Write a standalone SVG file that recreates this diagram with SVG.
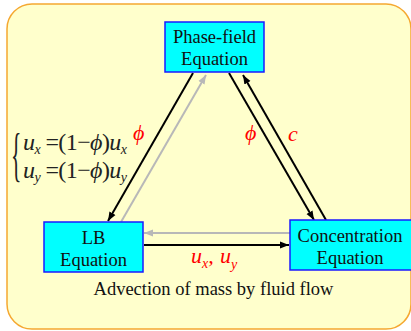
<svg xmlns="http://www.w3.org/2000/svg" width="411" height="331" viewBox="0 0 411 331">
<style>
.box{fill:#00FFFF;stroke:#1A1AFF;stroke-width:1.5}
.lbl{font-family:"Liberation Serif","Times New Roman",serif;font-size:18.5px;fill:#111;text-anchor:middle}
.red{font-family:"Liberation Serif","Times New Roman",serif;font-style:italic;fill:#FF0000;font-size:22px}
.m{font-family:"Liberation Serif","Times New Roman",serif;font-size:24px;fill:#222;letter-spacing:-0.6px}
.it{font-style:italic}
.sub{font-size:14px}
.blk{stroke:#000;stroke-width:2;fill:none;marker-end:url(#ab)}
.gry{stroke:#B8B8B8;stroke-width:2;fill:none;marker-end:url(#ag)}
</style>
<defs>
<marker id="ab" markerUnits="userSpaceOnUse" markerWidth="10" markerHeight="8" refX="9" refY="4" orient="auto"><path d="M0,0.5 L9,4 L0,7.5 Z" fill="#000"/></marker>
<marker id="ag" markerUnits="userSpaceOnUse" markerWidth="10" markerHeight="8" refX="9" refY="4" orient="auto"><path d="M0,0.5 L9,4 L0,7.5 Z" fill="#B8B8B8"/></marker>
</defs>
<rect x="7" y="4" width="404" height="325" rx="25" fill="#FFFFCC" stroke="#F5A830" stroke-width="1.5"/>
<g id="connectors">
<line class="blk" x1="193" y1="73" x2="108" y2="221"/>
<line class="gry" x1="121" y1="222" x2="206" y2="75"/>
<line class="blk" x1="229" y1="73" x2="314" y2="220"/>
<line class="blk" x1="326" y1="220" x2="243" y2="75"/>
<line class="gry" x1="290" y1="233" x2="144" y2="233"/>
<line class="blk" x1="144" y1="245" x2="289" y2="245"/>
</g>
<g id="phase">
<rect class="box" x="165" y="22" width="99" height="50"/>
<text class="lbl" x="214.5" y="43">Phase-field</text>
<text class="lbl" x="214.5" y="65">Equation</text>
</g>
<g id="lb">
<rect class="box" x="44" y="222" width="99" height="50"/>
<text class="lbl" x="93.5" y="243.5">LB</text>
<text class="lbl" x="93.5" y="265.5">Equation</text>
</g>
<g id="conc">
<rect class="box" x="290" y="220" width="122" height="50"/>
<text class="lbl" x="350" y="242">Concentration</text>
<text class="lbl" x="350" y="264">Equation</text>
</g>
<g id="labels">
<text class="red" x="133" y="140">ϕ</text>
<text class="red" x="245" y="140">ϕ</text>
<text class="red" x="288" y="141">c</text>
<text class="red" x="191" y="263">u<tspan class="sub" dy="5">x</tspan><tspan dy="-5">, </tspan><tspan x="220">u</tspan><tspan class="sub" dy="6">y</tspan></text>
<text class="lbl" x="213.5" y="295">Advection of mass by fluid flow</text>
</g>
<g id="formula">
<text class="m" transform="translate(11,174) scale(0.36,1)" style="font-size:60px;letter-spacing:0">{</text>
<text class="m" x="23" y="150"><tspan class="it">u</tspan><tspan class="it sub" dy="4">x</tspan><tspan dy="-4"> =(1−</tspan><tspan class="it">ϕ</tspan><tspan>)</tspan><tspan class="it">u</tspan><tspan class="it sub" dy="4">x</tspan></text>
<text class="m" x="23" y="178"><tspan class="it">u</tspan><tspan class="it sub" dy="4">y</tspan><tspan dy="-4"> =(1−</tspan><tspan class="it">ϕ</tspan><tspan>)</tspan><tspan class="it">u</tspan><tspan class="it sub" dy="4">y</tspan></text>
</g>
</svg>
